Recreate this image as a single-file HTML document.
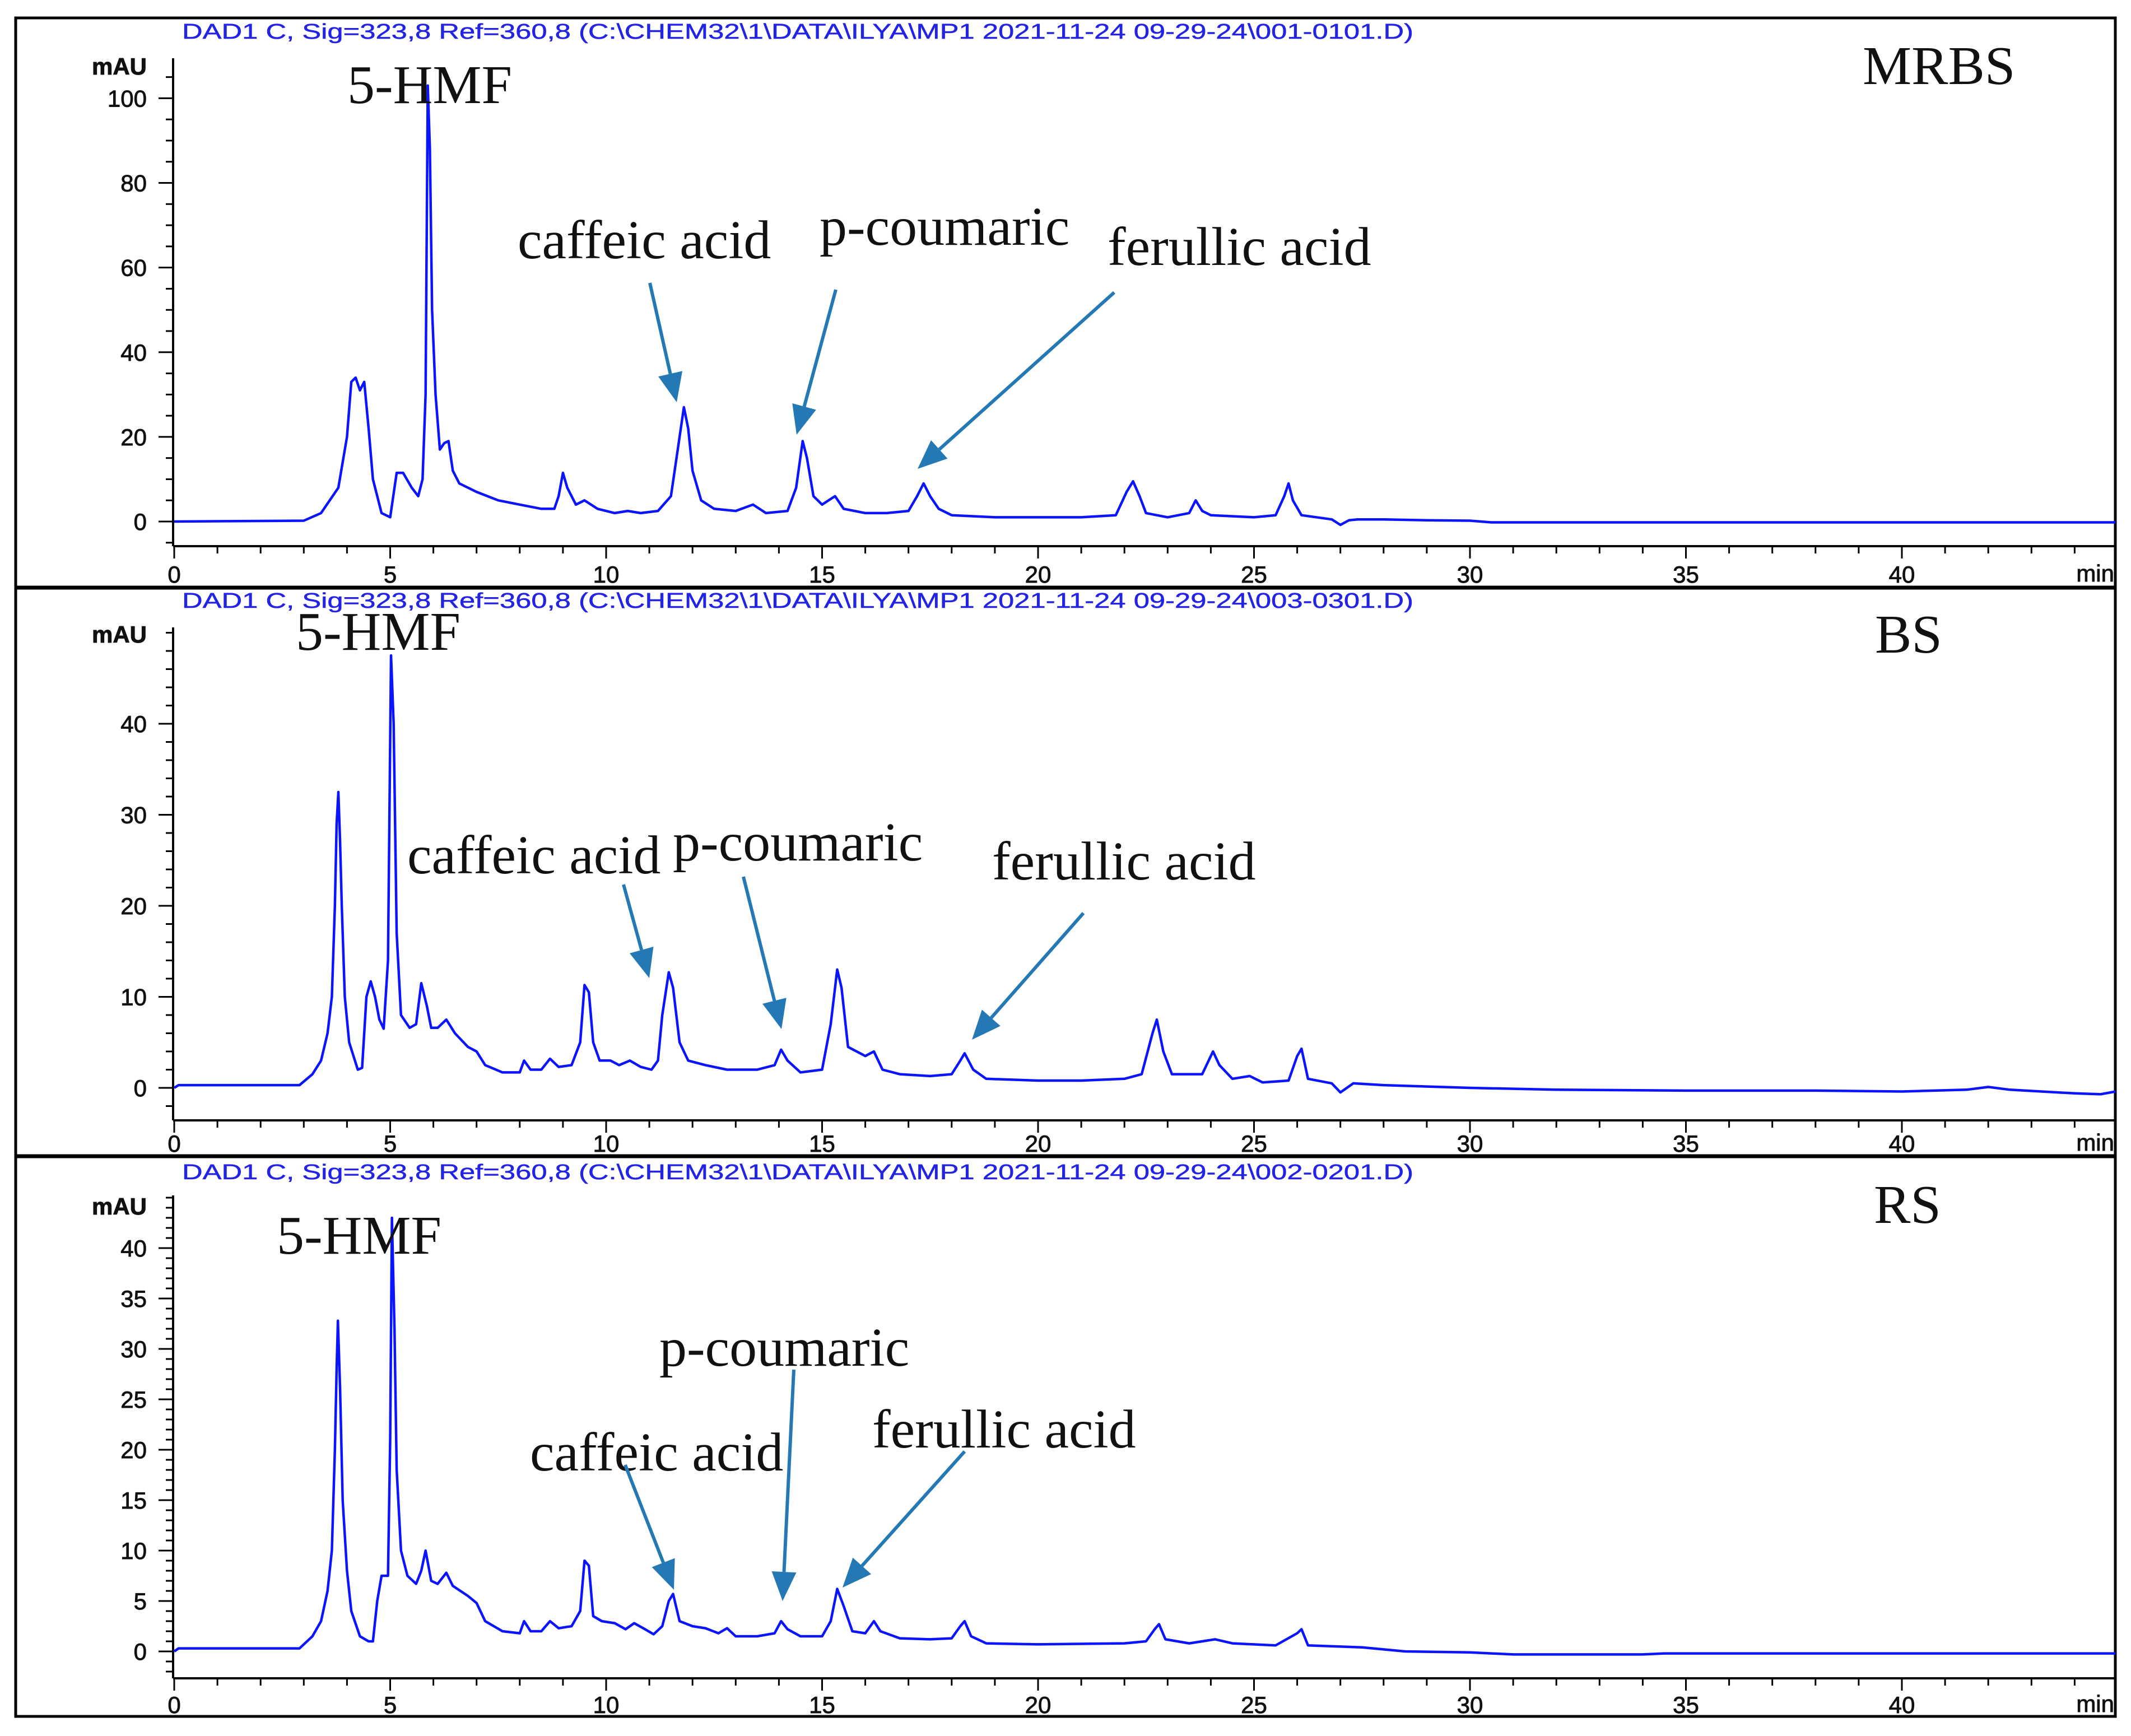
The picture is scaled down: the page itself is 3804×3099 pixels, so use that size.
<!DOCTYPE html>
<html><head><meta charset="utf-8"><title>HPLC chromatograms</title>
<style>
html,body{margin:0;padding:0;background:#fff;}
svg{display:block;}
.tk{font-family:"Liberation Sans",Arial,sans-serif;font-size:42px;fill:#111;stroke:#111;stroke-width:0.9px;}
.ttl{font-family:"Liberation Sans",Arial,sans-serif;font-size:38px;fill:#2323e6;stroke:#2323e6;stroke-width:0.5px;}
.ann{font-family:"Liberation Serif","Times New Roman",serif;font-size:98px;fill:#111;}
</style></head>
<body>
<svg id="chart" width="3804" height="3099" viewBox="0 0 3804 3099" xmlns="http://www.w3.org/2000/svg">
<rect x="0" y="0" width="3804" height="3099" fill="#fff"/>
<g id="frame">
<rect x="28" y="32" width="3748" height="3032" fill="none" stroke="#000" stroke-width="5"/>
<line x1="28" y1="1049" x2="3776" y2="1049" stroke="#000" stroke-width="7"/>
<line x1="28" y1="2064" x2="3776" y2="2064" stroke="#000" stroke-width="7"/>
</g>
<g id="plots"></g>
<g id="annots"></g>
</svg>
<script>
// ---- Data: retention time (min) and absorbance (mAU) ----
const mrbsTime = [0,3.0,3.4,3.8,4.0,4.1,4.2,4.3,4.4,4.5,4.6,4.8,5.0,5.15,5.3,5.5,5.65,5.75,5.82,5.87,5.92,5.97,6.05,6.15,6.25,6.35,6.45,6.6,7.0,7.5,8.0,8.5,8.8,8.9,9.0,9.1,9.3,9.5,9.8,10.2,10.5,10.8,11.2,11.5,11.7,11.8,11.9,12.0,12.2,12.5,13.0,13.4,13.7,14.2,14.4,14.55,14.65,14.8,15.0,15.3,15.5,16.0,16.5,17.0,17.2,17.35,17.5,17.7,18.0,19,20,21,21.8,22.05,22.2,22.35,22.5,23,23.5,23.65,23.8,24,25,25.5,25.7,25.8,25.9,26.1,26.8,27.0,27.2,27.4,28,29,30,30.5,35,44.95];
const mrbsValue = [0,0.2,2,8,20,33,34,31,33,22,10,2,1,11.5,11.5,8,6,10,30,103,88,50,30,17,18.5,19,12,9,7,5,4,3,3,6,11.5,8,4,5,3,2,2.5,2,2.5,6,20,27,22,12,5,3,2.5,4,2,2.5,8,19,15,6,4,6,3,2,2,2.5,6,9,6,3,1.5,1,1,1,1.5,7,9.5,6,2,1,2,5,2.5,1.5,1,1.5,6,9,5,1.5,0.5,-0.8,0.3,0.5,0.5,0.3,0.2,-0.2,-0.2,-0.2];

const bsTime = [0,0.1,2.9,3.2,3.4,3.55,3.65,3.72,3.76,3.8,3.84,3.88,3.95,4.05,4.25,4.35,4.45,4.55,4.65,4.75,4.85,4.95,5.02,5.08,5.15,5.25,5.45,5.6,5.72,5.85,5.95,6.1,6.3,6.5,6.8,7.0,7.2,7.6,8.0,8.1,8.25,8.5,8.7,8.9,9.2,9.4,9.5,9.6,9.7,9.85,10.1,10.3,10.55,10.8,11.05,11.2,11.3,11.45,11.55,11.7,11.9,12.3,12.8,13.5,13.9,14.05,14.2,14.5,15.0,15.2,15.35,15.45,15.6,15.8,16.0,16.2,16.4,16.8,17.5,18.0,18.2,18.3,18.5,18.8,20,21,22,22.4,22.65,22.75,22.9,23.1,23.8,24.05,24.2,24.5,24.9,25.2,25.8,26.0,26.1,26.25,26.8,27.0,27.3,28,30,32,35,38,40,41.5,42,42.5,44,44.6,44.95];
const bsValue = [0,0.3,0.3,1.5,3,6,10,20,29,32.5,27,20,10,5,2,2.2,10,11.7,10,7.5,6.5,14,47.5,40,17,8,6.6,7,11.5,9,6.6,6.6,7.5,6,4.5,4,2.5,1.7,1.7,3,2,2,3.2,2.3,2.5,5,11.3,10.5,5,3,3,2.5,3,2.3,2,3,8,12.7,11,5,3,2.5,2,2,2.5,4.2,3,1.7,2,7,13,11,4.5,4,3.5,4,2,1.5,1.3,1.5,3,3.8,2,1,0.8,0.8,1,1.5,6,7.5,4,1.5,1.5,4,2.5,1,1.3,0.6,0.8,3.5,4.3,1,0.5,-0.5,0.5,0.3,0,-0.2,-0.3,-0.3,-0.4,-0.2,0.1,-0.2,-0.6,-0.7,-0.4];

const rsTime = [0,0.1,2.9,3.2,3.4,3.55,3.65,3.72,3.76,3.79,3.84,3.9,4.0,4.1,4.3,4.5,4.6,4.7,4.8,4.95,5.0,5.04,5.1,5.15,5.25,5.4,5.6,5.72,5.82,5.95,6.1,6.3,6.45,6.8,7.0,7.2,7.6,8.0,8.1,8.25,8.5,8.7,8.9,9.2,9.4,9.5,9.6,9.7,9.9,10.2,10.45,10.65,10.9,11.1,11.3,11.45,11.55,11.7,12.0,12.3,12.6,12.8,13.0,13.5,13.9,14.05,14.2,14.5,15.0,15.2,15.35,15.5,15.7,16.0,16.2,16.35,16.8,17.5,18.0,18.2,18.3,18.45,18.8,20,22,22.5,22.7,22.8,22.95,23.5,24.1,24.5,25.5,26.0,26.1,26.25,27.5,28.5,30,31,34,34.5,44.95];
const rsValue = [0,0.3,0.3,1.5,3,6,10,20,28,32.8,26,15,8,4,1.5,1,1,5,7.5,7.5,21,43,32,18,10,7.5,6.7,8,10,7,6.7,7.8,6.5,5.5,4.8,3,2,1.8,3,2,2,3,2.3,2.5,4,9,8.5,3.5,3,2.8,2.2,2.8,2.2,1.7,2.5,5,5.7,3,2.5,2.3,1.8,2.3,1.5,1.5,1.8,3,2.2,1.5,1.5,3,6.2,4.5,2,1.8,3,2,1.3,1.2,1.3,2.5,3,1.5,0.8,0.7,0.8,1,2.2,2.7,1.2,0.8,1.2,0.8,0.6,1.8,2.2,0.6,0.4,0,-0.1,-0.3,-0.3,-0.2,-0.2];

const xTickLabels = ["0","5","10","15","20","25","30","35","40"];
const mrbsYTicks = [0,20,40,60,80,100];
const bsYTicks = [0,10,20,30,40];
const rsYTicks = [0,5,10,15,20,25,30,35,40];

const titles = [
 "DAD1 C, Sig=323,8 Ref=360,8 (C:\\CHEM32\\1\\DATA\\ILYA\\MP1 2021-11-24 09-29-24\\001-0101.D)",
 "DAD1 C, Sig=323,8 Ref=360,8 (C:\\CHEM32\\1\\DATA\\ILYA\\MP1 2021-11-24 09-29-24\\003-0301.D)",
 "DAD1 C, Sig=323,8 Ref=360,8 (C:\\CHEM32\\1\\DATA\\ILYA\\MP1 2021-11-24 09-29-24\\002-0201.D)"
];

// ---- Layout ----
const NS = "http://www.w3.org/2000/svg";
const X0 = 311, PXMIN = 77.1, XEND = 3776, AXX = 309;
const panels = [
 {name:"mrbs", t:mrbsTime, v:mrbsValue, ticks:mrbsYTicks, minor:5, zero:931, ppu:7.556, axTop:104, axBot:975, lblY:1040, titleY:69, mauY:133},
 {name:"bs", t:bsTime, v:bsValue, ticks:bsYTicks, minor:2, zero:1942, ppu:16.25, axTop:1120, axBot:2000, lblY:2056, titleY:1085, mauY:1147},
 {name:"rs", t:rsTime, v:rsValue, ticks:rsYTicks, minor:1, zero:2948, ppu:18.0, axTop:2134, axBot:2996, lblY:3058, titleY:2105, mauY:2168}
];
function xs(t){ return X0 + t*PXMIN; }
function mk(tag, attrs, parent){
  const e = document.createElementNS(NS, tag);
  for (const k in attrs) e.setAttribute(k, attrs[k]);
  parent.appendChild(e); return e;
}
const plots = document.getElementById('plots');
panels.forEach((p, i) => {
  const ys = v => p.zero - v*p.ppu;
  const g = mk('g', {}, plots);
  
  
  const tt = mk('text', {x:325, y:p.titleY, class:'ttl', textLength:2198, lengthAdjust:'spacingAndGlyphs'}, g);
  tt.textContent = titles[i];
  
  
  const ya = mk('g', {}, g);
  
  
  mk('line', {x1:AXX, y1:p.axTop, x2:AXX, y2:p.axBot, stroke:'#000', 'stroke-width':4}, ya);
  const vMin = (p.zero - p.axBot)/p.ppu, vMax = (p.zero - p.axTop)/p.ppu;
  for (let v = Math.ceil(vMin/p.minor)*p.minor; v <= vMax; v += p.minor) {
    const y = ys(v);
    const major = p.ticks.indexOf(Math.round(v*1000)/1000) >= 0;
    mk('line', {x1:AXX-(major?26:13), y1:y, x2:AXX, y2:y, stroke:'#000', 'stroke-width':3}, ya);
  }
  p.ticks.forEach(v => {
    const t = mk('text', {x:262, y:ys(v)+15, class:'tk', 'text-anchor':'end'}, ya);
    t.textContent = String(v);
    
    
  });
  const mau = mk('text', {x:262, y:p.mauY, class:'tk', 'text-anchor':'end', 'font-size':34, 'font-weight':'bold'}, ya);
  mau.textContent = 'mAU';
  
  
  const xa = mk('g', {}, g);
  
  
  mk('line', {x1:AXX, y1:p.axBot, x2:XEND, y2:p.axBot, stroke:'#000', 'stroke-width':4}, xa);
  for (let m = 0; xs(m) < XEND - 5; m++) {
    const major = m % 5 === 0;
    mk('line', {x1:xs(m), y1:p.axBot, x2:xs(m), y2:p.axBot+(major?22:13), stroke:'#000', 'stroke-width':3}, xa);
  }
  xTickLabels.forEach(l => {
    const t = mk('text', {x:xs(parseFloat(l)), y:p.lblY, class:'tk', 'text-anchor':'middle'}, xa);
    t.textContent = l;
    
    
  });
  const mn = mk('text', {x:XEND-2, y:p.lblY-2, class:'tk', 'text-anchor':'end', 'font-size':36}, xa);
  mn.textContent = 'min';
  
  
  let d = '';
  for (let k = 0; k < p.t.length; k++) d += (k ? 'L' : 'M') + xs(p.t[k]).toFixed(1) + ' ' + ys(p.v[k]).toFixed(1);
  const path = mk('path', {d:d, fill:'none', stroke:'#0a14ff', 'stroke-width':4.5, 'stroke-linejoin':'round'}, g);
  
  
});

const an = document.getElementById('annots');
const labels = [
 ["5-HMF",620,184,"label-5-hmf"],["MRBS",3325,150,"sample-label-mrbs"],
 ["caffeic acid",924,461,"label-caffeic-acid"],["p-coumaric",1463,437,"label-p-coumaric"],["ferullic acid",1977,473,"label-ferullic-acid"],
 ["5-HMF",528,1160,"label-5-hmf"],["BS",3347,1165,"sample-label-bs"],
 ["caffeic acid",727,1559,"label-caffeic-acid"],["p-coumaric",1201,1536,"label-p-coumaric"],["ferullic acid",1771,1570,"label-ferullic-acid"],
 ["5-HMF",494,2238,"label-5-hmf"],["RS",3345,2183,"sample-label-rs"],
 ["p-coumaric",1177,2438,"label-p-coumaric"],["caffeic acid",946,2625,"label-caffeic-acid"],["ferullic acid",1557,2584,"label-ferullic-acid"]
];
labels.forEach(l => {
  const t = mk('text', {x:l[1], y:l[2], class:'ann'}, an);
  t.textContent = l[0];
  
  
});
const arrows = [
 [1160,505,1208,718],[1492,517,1422,776],[1989,522,1638,837],
 [1113,1579,1159,1746],[1327,1565,1395,1837],[1934,1630,1735,1856],
 [1116,2615,1203,2838],[1417,2445,1397,2858],[1722,2591,1504,2834]
];
arrows.forEach(a => {
  const [x1,y1,x2,y2] = a;
  const dx = x2-x1, dy = y2-y1, L = Math.hypot(dx,dy), ux = dx/L, uy = dy/L;
  const hl = 52, hw = 22;
  const bx = x2-ux*hl, by = y2-uy*hl;
  const g = mk('g', {}, an);
  
  
  mk('line', {x1:x1, y1:y1, x2:bx, y2:by, stroke:'#2479b5', 'stroke-width':6}, g);
  mk('polygon', {points:`${x2},${y2} ${bx-uy*hw},${by+ux*hw} ${bx+uy*hw},${by-ux*hw}`, fill:'#2479b5'}, g);
});
</script>
</body></html>
